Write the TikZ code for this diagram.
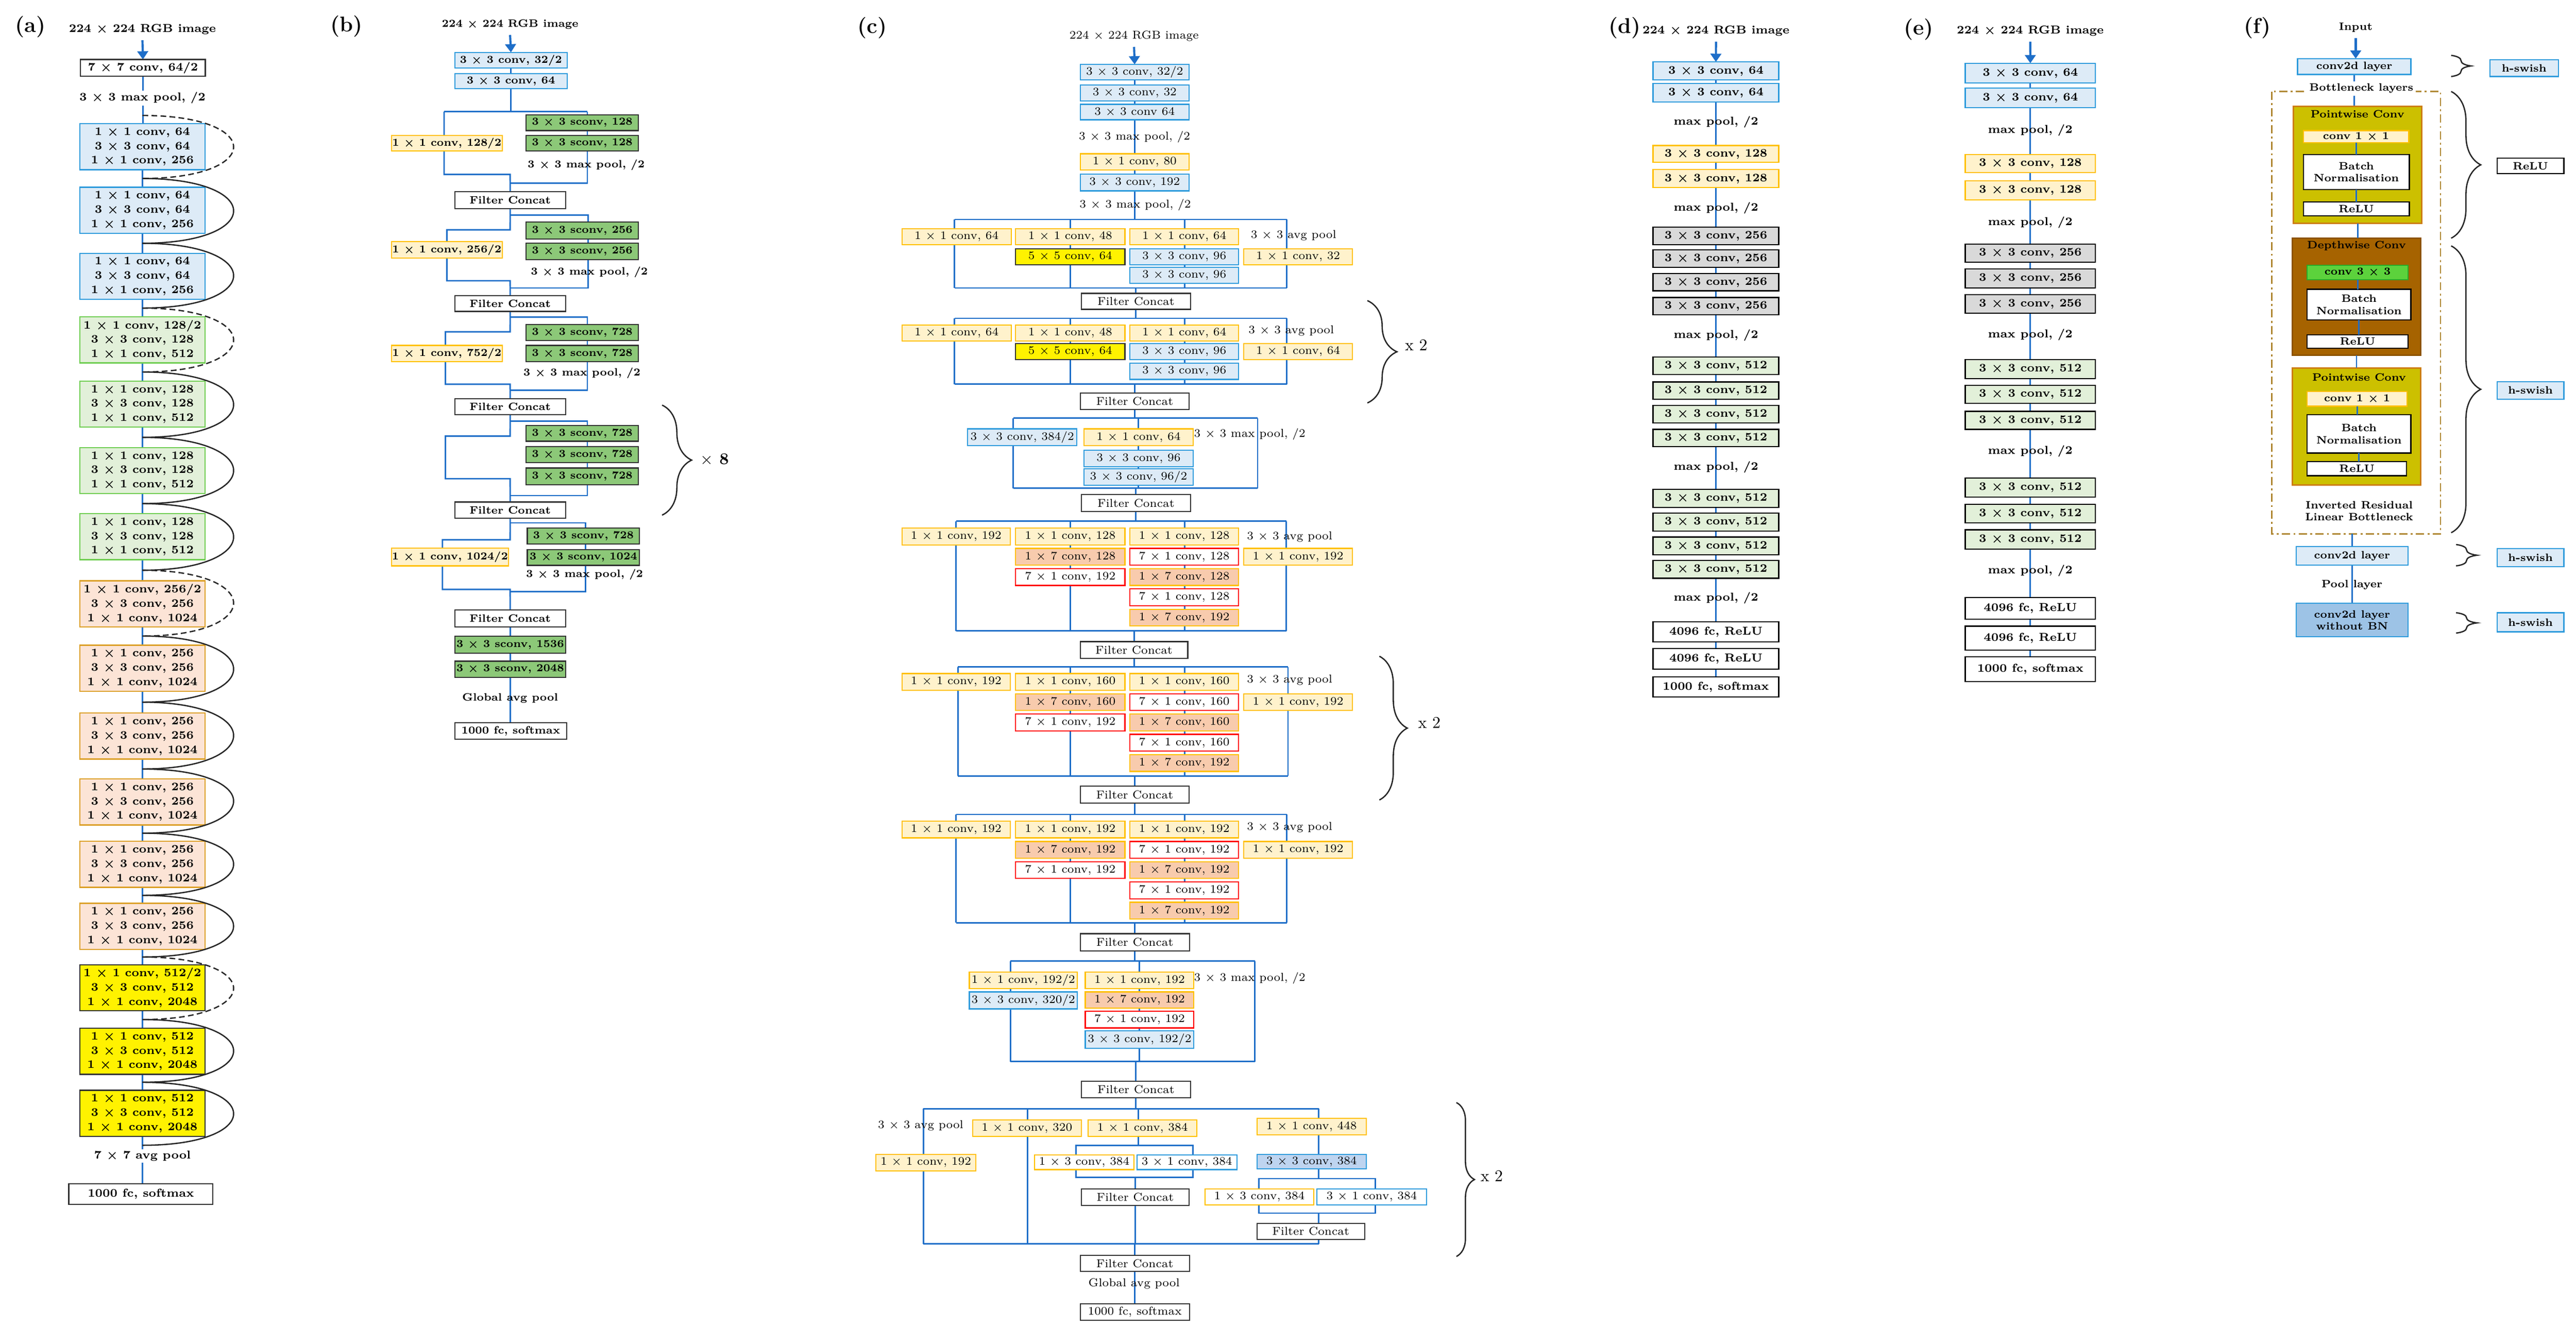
\documentclass[tikz,border=0pt]{standalone}
\usetikzlibrary{arrows.meta,decorations.pathreplacing}
\definecolor{lnblue}{RGB}{30,110,200}
\definecolor{bbd}{RGB}{46,155,220}
\definecolor{bfl}{RGB}{221,235,247}
\definecolor{bfl2}{RGB}{157,195,230}
\definecolor{bfl3}{RGB}{190,212,240}
\definecolor{gbd}{RGB}{110,205,80}
\definecolor{gfl}{RGB}{226,240,217}
\definecolor{obd}{RGB}{220,160,40}
\definecolor{ofl}{RGB}{252,228,214}
\definecolor{ybd}{RGB}{255,192,0}
\definecolor{yfl}{RGB}{255,242,204}
\definecolor{sfl}{RGB}{248,203,173}
\definecolor{xgfl}{RGB}{140,200,120}
\definecolor{grfl}{RGB}{217,217,217}
\definecolor{olv}{RGB}{204,192,0}
\definecolor{olvbd}{RGB}{205,125,20}
\definecolor{brn}{RGB}{166,99,0}
\definecolor{cgr}{RGB}{92,210,60}
\definecolor{cgrbd}{RGB}{40,170,40}
\definecolor{dashc}{RGB}{175,135,50}
\definecolor{dk}{RGB}{50,50,50}
\newcommand\tms{$\times$}
\newcommand\bx[7]{\node[#2,minimum width={#5-#3},minimum height={#6-#4}] (#1) at ({(#3+#5)/2},{(#4+#6)/2}) {#7};}
\pgfdeclarelayer{bg}
\pgfsetlayers{bg,main}
\tikzset{
 bb/.style={draw,inner sep=0pt,outer sep=0pt,align=center,line width=0.7pt},
 sblue/.style={bb,draw=bbd,fill=bfl},
 sbl2/.style={bb,draw=bbd,fill=bfl2},
 sbl3/.style={bb,draw=bbd,fill=bfl3},
 sgreen/.style={bb,draw=gbd,fill=gfl},
 sorange/.style={bb,draw=obd,fill=ofl},
 syellow/.style={bb,draw=dk,fill=yellow},
 swhite/.style={bb,draw=dk,fill=white},
 sylw/.style={bb,draw=ybd,fill=yfl},
 syw/.style={bb,draw=ybd,fill=white},
 sbw/.style={bb,draw=bbd,fill=white},
 ssal/.style={bb,draw=ybd,fill=sfl},
 sred/.style={bb,draw=red,fill=white},
 sxg/.style={bb,draw=dk,fill=xgfl},
 sgray/.style={bb,draw=black,fill=grfl},
 slg/.style={bb,draw=black,fill=gfl},
 sblk/.style={bb,draw=black,fill=white},
 solv/.style={bb,draw=olvbd,fill=olv,line width=0.9pt},
 sbrn/.style={bb,draw=brn!85!black,fill=brn,line width=0.9pt},
 scgr/.style={bb,draw=cgrbd,fill=cgr},
 fa/.style={font=\fontsize{7}{8.7}\selectfont\bfseries\boldmath},
 fb/.style={font=\fontsize{6.5}{8}\selectfont\bfseries\boldmath},
 fcc/.style={font=\fontsize{7}{8.5}\selectfont},
 fd/.style={font=\fontsize{7}{8.5}\selectfont\bfseries\boldmath},
 ff/.style={font=\fontsize{6.5}{7.4}\selectfont\bfseries\boldmath},
 lab/.style={font=\fontsize{13}{15}\selectfont\bfseries},
 ln/.style={draw=lnblue,line width=0.9pt},
 arr/.style={draw=lnblue,line width=1.3pt,-{Triangle[length=5pt,width=6.5pt]}},
 lp/.style={draw=black!85,line width=0.8pt},
 dsh/.style={dash pattern=on 3.5pt off 2pt},
 brc/.style={decorate,decoration={brace,amplitude=#1},draw=black!85,line width=0.8pt},
}
\begin{document}
\begin{tikzpicture}[x=1pt,y=-1pt]
\useasboundingbox (0,0) rectangle (1568,807.7);
% panel labels
\node[lab] (la) at (18.4,16.5) {(a)};
\node[lab] (lb) at (210.8,16) {(b)};
\node[lab] (lc) at (531,17) {(c)};
\node[lab] (ld) at (989,17) {(d)};
\node[lab] (le) at (1167.8,18) {(e)};
\node[lab] (lf) at (1374,17) {(f)};

% ================= (a) =================
\begin{scope}[every node/.append style={fa}]
\node (at) at (86.7,17.8) {224 \tms{} 224 RGB image};
\bx{a0}{swhite}{49}{36.2}{125}{46.3}{7 \tms{} 7 conv, 64/2}
\bx{a1}{sblue}{48.5}{75.3}{124.8}{103.3}{1 \tms{} 1 conv, 64\\3 \tms{} 3 conv, 64\\1 \tms{} 1 conv, 256}
\bx{a2}{sblue}{48.5}{114}{124.8}{142}{1 \tms{} 1 conv, 64\\3 \tms{} 3 conv, 64\\1 \tms{} 1 conv, 256}
\bx{a3}{sblue}{48.5}{154.2}{124.8}{182.2}{1 \tms{} 1 conv, 64\\3 \tms{} 3 conv, 64\\1 \tms{} 1 conv, 256}
\bx{a4}{sgreen}{48.5}{192.9}{124.8}{220.9}{1 \tms{} 1 conv, 128/2\\3 \tms{} 3 conv, 128\\1 \tms{} 1 conv, 512}
\bx{a5}{sgreen}{48.5}{232}{124.8}{260}{1 \tms{} 1 conv, 128\\3 \tms{} 3 conv, 128\\1 \tms{} 1 conv, 512}
\bx{a6}{sgreen}{48.5}{272.5}{124.8}{300.5}{1 \tms{} 1 conv, 128\\3 \tms{} 3 conv, 128\\1 \tms{} 1 conv, 512}
\bx{a7}{sgreen}{48.5}{312.7}{124.8}{340.7}{1 \tms{} 1 conv, 128\\3 \tms{} 3 conv, 128\\1 \tms{} 1 conv, 512}
\bx{a8}{sorange}{48.5}{353.6}{124.8}{381.6}{1 \tms{} 1 conv, 256/2\\3 \tms{} 3 conv, 256\\1 \tms{} 1 conv, 1024}
\bx{a9}{sorange}{48.5}{392.8}{124.8}{420.8}{1 \tms{} 1 conv, 256\\3 \tms{} 3 conv, 256\\1 \tms{} 1 conv, 1024}
\bx{a10}{sorange}{48.5}{434.1}{124.8}{462.1}{1 \tms{} 1 conv, 256\\3 \tms{} 3 conv, 256\\1 \tms{} 1 conv, 1024}
\bx{a11}{sorange}{48.5}{474.2}{124.8}{502.2}{1 \tms{} 1 conv, 256\\3 \tms{} 3 conv, 256\\1 \tms{} 1 conv, 1024}
\bx{a12}{sorange}{48.5}{512.2}{124.8}{540.2}{1 \tms{} 1 conv, 256\\3 \tms{} 3 conv, 256\\1 \tms{} 1 conv, 1024}
\bx{a13}{sorange}{48.5}{549.9}{124.8}{577.9}{1 \tms{} 1 conv, 256\\3 \tms{} 3 conv, 256\\1 \tms{} 1 conv, 1024}
\bx{a14}{syellow}{48.5}{587.3}{124.8}{615.3}{1 \tms{} 1 conv, 512/2\\3 \tms{} 3 conv, 512\\1 \tms{} 1 conv, 2048}
\bx{a15}{syellow}{48.5}{626}{124.8}{654}{1 \tms{} 1 conv, 512\\3 \tms{} 3 conv, 512\\1 \tms{} 1 conv, 2048}
\bx{a16}{syellow}{48.5}{663.7}{124.8}{691.7}{1 \tms{} 1 conv, 512\\3 \tms{} 3 conv, 512\\1 \tms{} 1 conv, 2048}
\bx{afc}{swhite}{41.9}{720.6}{129.6}{733.3}{1000 fc, softmax}
\node[fill=white,inner sep=1pt] (amp) at (86.7,59.7) {3 \tms{} 3 max pool, /2};
\node[fill=white,inner sep=1pt] (aap) at (86.7,703.8) {7 \tms{} 7 avg pool};
\end{scope}
\begin{pgfonlayer}{bg}
\draw[arr] (at.south) -- (a0.north);
\draw[ln] (a0.south) -- (a0.south |- a1.north);
\foreach \i/\j in {1/2,2/3,3/4,4/5,5/6,6/7,7/8,8/9,9/10,10/11,11/12,12/13,13/14,14/15,15/16}
  \draw[ln] (a\i.south) -- (a\i.south |- a\j.north);
\draw[ln] (a16.south) -- (a16.south |- afc.north);
\end{pgfonlayer}
\foreach \n/\yy in {0/70.3,1/108.65,2/148.1,3/187.55,4/226.45,5/266.25,6/306.6,7/347.15,8/387.2,9/427.45,10/468.15,11/507.2,12/545.05,13/582.6,14/620.65,15/658.85,16/697.2}
  \coordinate (am\n) at (86.7,\yy);
\foreach \i/\j/\s in {0/1/dsh,1/2/solid,2/3/solid,3/4/dsh,4/5/solid,5/6/solid,6/7/solid,7/8/dsh,8/9/solid,9/10/solid,10/11/solid,11/12/solid,12/13/solid,13/14/dsh,14/15/solid,15/16/solid}
  \draw[lp,\s] (am\i) .. controls +(74,0) and +(74,0) .. (am\j);

% ================= (b) =================
\begin{scope}[every node/.append style={fb}]
\node (bt) at (310.5,14.8) {224 \tms{} 224 RGB image};
\bx{b1}{sblue}{276.8}{31.9}{345.2}{41.4}{3 \tms{} 3 conv, 32/2}
\bx{b2}{sblue}{276.8}{44.8}{345.2}{53.9}{3 \tms{} 3 conv, 64}
\bx{by1}{sylw}{238.3}{82.4}{305.7}{91.9}{1 \tms{} 1 conv, 128/2}
\bx{bg1}{sxg}{320.3}{69.9}{388.5}{79.5}{3 \tms{} 3 sconv, 128}
\bx{bg2}{sxg}{320.3}{82.4}{388.5}{91.9}{3 \tms{} 3 sconv, 128}
\node (bm1) at (356.8,100.5) {3 \tms{} 3 max pool, /2};
\bx{bf1}{swhite}{276.8}{116.6}{344.3}{126.9}{Filter Concat}
\bx{by2}{sylw}{238.3}{147.1}{305.7}{157.2}{1 \tms{} 1 conv, 256/2}
\bx{bg3}{sxg}{320.3}{135.2}{388.5}{145.6}{3 \tms{} 3 sconv, 256}
\bx{bg4}{sxg}{320.3}{148.1}{388.5}{158}{3 \tms{} 3 sconv, 256}
\node (bm2) at (358.7,165.8) {3 \tms{} 3 max pool, /2};
\bx{bf2}{swhite}{276.8}{180}{344.3}{189.6}{Filter Concat}
\bx{by3}{sylw}{238.3}{210.3}{305.7}{220.2}{1 \tms{} 1 conv, 752/2}
\bx{bg5}{sxg}{320.3}{197.6}{388.5}{207.2}{3 \tms{} 3 sconv, 728}
\bx{bg6}{sxg}{320.3}{210.3}{388.5}{220.2}{3 \tms{} 3 sconv, 728}
\node (bm3) at (354.2,227.1) {3 \tms{} 3 max pool, /2};
\bx{bf3}{swhite}{276.8}{242.7}{344.3}{252.5}{Filter Concat}
\bx{bg7}{sxg}{320.3}{259}{388.5}{268.6}{3 \tms{} 3 sconv, 728}
\bx{bg8}{sxg}{320.3}{271.9}{388.5}{281.5}{3 \tms{} 3 sconv, 728}
\bx{bg9}{sxg}{320.3}{284.9}{388.5}{295}{3 \tms{} 3 sconv, 728}
\bx{bf4}{swhite}{276.8}{305.6}{344.3}{315.5}{Filter Concat}
\bx{by5}{sylw}{238.3}{333.6}{309.5}{344.5}{1 \tms{} 1 conv, 1024/2}
\bx{bg10}{sxg}{321}{321.4}{389.2}{331.1}{3 \tms{} 3 sconv, 728}
\bx{bg11}{sxg}{321}{334.5}{389.2}{344.2}{3 \tms{} 3 sconv, 1024}
\node (bm5) at (355.8,349.8) {3 \tms{} 3 max pool, /2};
\bx{bf5}{swhite}{276.8}{371.2}{344.3}{381.7}{Filter Concat}
\bx{bs1}{sxg}{276.8}{387.2}{344.3}{397.7}{3 \tms{} 3 sconv, 1536}
\bx{bs2}{sxg}{276.8}{402.5}{344.3}{412.3}{3 \tms{} 3 sconv, 2048}
\node (bgap) at (310.5,425.1) {Global avg pool};
\bx{bfin}{swhite}{276.8}{440}{345}{449.9}{1000 fc, softmax}
\end{scope}
\draw[brc=18pt] (403,246.6) -- (403,313.6);
\node[font=\fontsize{10}{12}\selectfont\bfseries] (bx8) at (435,280) {\tms{} 8};
\begin{pgfonlayer}{bg}
\draw[arr] (bt.south) -- (b1.north);
\draw[ln] (b1.south) -- (b1.south |- b2.north);
\draw[ln] (b2.south) -- (311,67.9);
\draw[ln] (270.3,67.9) -- (357.5,67.9);
\draw[ln] (270.3,67.9) -- (270.3,106.2) -- (310.5,106.2) -- (bf1.north);
\draw[ln] (357.5,67.9) -- (357.5,111.4) -- (310.5,111.4);
\draw[ln] (bf1.south) -- (310.5,139.9) -- (272,139.9) -- (272,170.9) -- (310.5,170.9) -- (bf2.north);
\draw[ln] (310.5,130.8) -- (358.1,130.8) -- (358.1,175.3) -- (310.5,175.3);
\draw[ln] (bf2.south) -- (310.5,202) -- (271.1,202) -- (271.1,233.9) -- (310.5,233.9) -- (bf3.north);
\draw[ln] (310.5,193) -- (357.5,193) -- (357.5,237.5) -- (310.5,237.5);
\draw[ln] (bf3.south) -- (310.5,265.5) -- (271.1,265.5) -- (271.1,291.4) -- (310.5,291.4) -- (bf4.north);
\draw[ln] (310.5,256.4) -- (357.5,256.4) -- (357.5,301.7) -- (310.5,301.7);
\draw[ln] (bf4.south) -- (310.5,328.6) -- (269.3,328.6) -- (269.3,358.8) -- (310.5,358.8) -- (bf5.north);
\draw[ln] (310.5,318.3) -- (356.3,318.3) -- (356.3,360.3) -- (310.5,360.3);
\draw[ln] (bf5.south) -- (bf5.south |- bs1.north);
\draw[ln] (bs1.south) -- (bs1.south |- bs2.north);
\draw[ln] (bs2.south) -- (bs2.south |- bfin.north);
\end{pgfonlayer}

% ================= (c) =================
\begin{scope}[every node/.append style={fcc}]
\node (ct) at (690.3,21.9) {224 \tms{} 224 RGB image};
\bx{c1}{sblue}{657.5}{39.2}{723.8}{48.6}{3 \tms{} 3 conv, 32/2}
\bx{c2}{sblue}{657.5}{51.8}{723.8}{61.5}{3 \tms{} 3 conv, 32}
\bx{c3}{sblue}{657.5}{63.5}{723.8}{72.9}{3 \tms{} 3 conv 64}
\node (cm1) at (690.6,83.4) {3 \tms{} 3 max pool, /2};
\bx{c4}{sylw}{657.5}{93.6}{723.8}{103.6}{1 \tms{} 1 conv, 80}
\bx{c5}{sblue}{657.5}{106}{723.8}{116.2}{3 \tms{} 3 conv, 192}
\node (cm2) at (691,124.7) {3 \tms{} 3 max pool, /2};
% Inception A 1
\bx{ca1}{sylw}{549}{139.2}{615.5}{149}{1 \tms{} 1 conv, 64}
\bx{ca2}{sylw}{618.2}{139.2}{684.7}{149}{1 \tms{} 1 conv, 48}
\bx{ca3}{syellow}{618.2}{151.4}{684.7}{161.1}{5 \tms{} 5 conv, 64}
\bx{ca4}{sylw}{687.8}{139.2}{753.9}{149}{1 \tms{} 1 conv, 64}
\bx{ca5}{sblue}{687.8}{151.4}{753.9}{161.1}{3 \tms{} 3 conv, 96}
\bx{ca6}{sblue}{687.8}{162.7}{753.9}{172.4}{3 \tms{} 3 conv, 96}
\node (ca7) at (787.4,143.3) {3 \tms{} 3 avg pool};
\bx{ca8}{sylw}{757}{151.4}{823.3}{161.1}{1 \tms{} 1 conv, 32}
\bx{cfa1}{swhite}{658.2}{178.6}{724.7}{188.3}{Filter Concat}
% Inception A 2
\bx{cb1}{sylw}{549}{197.8}{615.5}{207.6}{1 \tms{} 1 conv, 64}
\bx{cb2}{sylw}{618.2}{197.8}{684.7}{207.6}{1 \tms{} 1 conv, 48}
\bx{cb3}{syellow}{618.2}{209.2}{684.7}{218.9}{5 \tms{} 5 conv, 64}
\bx{cb4}{sylw}{687.8}{197.8}{753.9}{207.6}{1 \tms{} 1 conv, 64}
\bx{cb5}{sblue}{687.8}{209.2}{753.9}{218.9}{3 \tms{} 3 conv, 96}
\bx{cb6}{sblue}{687.8}{221}{753.9}{231}{3 \tms{} 3 conv, 96}
\node (cb7) at (786,201.5) {3 \tms{} 3 avg pool};
\bx{cb8}{sylw}{757}{209.2}{823.3}{218.9}{1 \tms{} 1 conv, 64}
\bx{cfa2}{swhite}{657.5}{239.3}{723.8}{249.3}{Filter Concat}
% Reduction A
\bx{cr1}{sblue}{589}{261.1}{655.5}{271.3}{3 \tms{} 3 conv, 384/2}
\bx{cr2}{sylw}{659.9}{261.1}{726.2}{271.3}{1 \tms{} 1 conv, 64}
\node (cr3) at (760.7,264.3) {3 \tms{} 3 max pool, /2};
\bx{cr4}{sblue}{659.9}{274}{726.2}{284.2}{3 \tms{} 3 conv, 96}
\bx{cr5}{sblue}{659.9}{285.4}{726.2}{295.4}{3 \tms{} 3 conv, 96/2}
\bx{cfr1}{swhite}{658.2}{301.1}{724.7}{311.3}{Filter Concat}
% Inception B 1
\bx{cd1}{sylw}{549}{321.5}{615}{331.7}{1 \tms{} 1 conv, 192}
\bx{cd2}{sylw}{618.2}{321.5}{684.7}{331.7}{1 \tms{} 1 conv, 128}
\bx{cd3}{ssal}{618.2}{333.85}{684.7}{344.05}{1 \tms{} 7 conv, 128}
\bx{cd4}{sred}{618.2}{346.2}{684.7}{356.4}{7 \tms{} 1 conv, 192}
\bx{cd5}{sylw}{687.8}{321.5}{753.9}{331.7}{1 \tms{} 1 conv, 128}
\bx{cd6}{sred}{687.8}{333.85}{753.9}{344.05}{7 \tms{} 1 conv, 128}
\bx{cd7}{ssal}{687.8}{346.2}{753.9}{356.4}{1 \tms{} 7 conv, 128}
\bx{cd8}{sred}{687.8}{358.55}{753.9}{368.75}{7 \tms{} 1 conv, 128}
\bx{cd9}{ssal}{687.8}{370.9}{753.9}{381.1}{1 \tms{} 7 conv, 192}
\node (cd10) at (785,326.7) {3 \tms{} 3 avg pool};
\bx{cd11}{sylw}{757}{333.85}{823.3}{344.05}{1 \tms{} 1 conv, 192}
\bx{cfb1}{swhite}{657.5}{390.6}{723}{400.8}{Filter Concat}
% Inception B 2
\bx{ce1}{sylw}{549}{410}{615}{420.2}{1 \tms{} 1 conv, 192}
\bx{ce2}{sylw}{618.2}{410}{684.7}{420.2}{1 \tms{} 1 conv, 160}
\bx{ce3}{ssal}{618.2}{422.35}{684.7}{432.55}{1 \tms{} 7 conv, 160}
\bx{ce4}{sred}{618.2}{434.7}{684.7}{444.9}{7 \tms{} 1 conv, 192}
\bx{ce5}{sylw}{687.8}{410}{753.9}{420.2}{1 \tms{} 1 conv, 160}
\bx{ce6}{sred}{687.8}{422.35}{753.9}{432.55}{7 \tms{} 1 conv, 160}
\bx{ce7}{ssal}{687.8}{434.7}{753.9}{444.9}{1 \tms{} 7 conv, 160}
\bx{ce8}{sred}{687.8}{447.05}{753.9}{457.25}{7 \tms{} 1 conv, 160}
\bx{ce9}{ssal}{687.8}{459.4}{753.9}{469.6}{1 \tms{} 7 conv, 192}
\node (ce10) at (785,414.1) {3 \tms{} 3 avg pool};
\bx{ce11}{sylw}{757}{422.35}{823.3}{432.55}{1 \tms{} 1 conv, 192}
\bx{cfb2}{swhite}{657.5}{478.5}{723.8}{488.9}{Filter Concat}
% Inception B 3
\bx{cg1}{sylw}{549}{499.9}{615}{510.1}{1 \tms{} 1 conv, 192}
\bx{cg2}{sylw}{618.2}{499.9}{684.7}{510.1}{1 \tms{} 1 conv, 192}
\bx{cg3}{ssal}{618.2}{512.25}{684.7}{522.45}{1 \tms{} 7 conv, 192}
\bx{cg4}{sred}{618.2}{524.6}{684.7}{534.8}{7 \tms{} 1 conv, 192}
\bx{cg5}{sylw}{687.8}{499.9}{753.9}{510.1}{1 \tms{} 1 conv, 192}
\bx{cg6}{sred}{687.8}{512.25}{753.9}{522.45}{7 \tms{} 1 conv, 192}
\bx{cg7}{ssal}{687.8}{524.6}{753.9}{534.8}{1 \tms{} 7 conv, 192}
\bx{cg8}{sred}{687.8}{536.95}{753.9}{547.15}{7 \tms{} 1 conv, 192}
\bx{cg9}{ssal}{687.8}{549.3}{753.9}{559.5}{1 \tms{} 7 conv, 192}
\node (cg10) at (785,503.5) {3 \tms{} 3 avg pool};
\bx{cg11}{sylw}{757}{512.25}{823.3}{522.45}{1 \tms{} 1 conv, 192}
\bx{cfb3}{swhite}{657.5}{568.4}{724}{578.8}{Filter Concat}
% Reduction B
\bx{ch1}{sylw}{590}{591.8}{655.8}{601.7}{1 \tms{} 1 conv, 192/2}
\bx{ch2}{sblue}{590}{603.8}{655.8}{614.2}{3 \tms{} 3 conv, 320/2}
\bx{ch3}{sylw}{660.6}{591.8}{726.7}{601.7}{1 \tms{} 1 conv, 192}
\bx{ch4}{ssal}{660.6}{603.8}{726.7}{613.8}{1 \tms{} 7 conv, 192}
\bx{ch5}{sred}{660.6}{615.7}{726.7}{625.8}{7 \tms{} 1 conv, 192}
\bx{ch6}{sblue}{660.6}{627.5}{726.7}{638.1}{3 \tms{} 3 conv, 192/2}
\node (ch7) at (760.7,595.6) {3 \tms{} 3 max pool, /2};
\bx{cfr2}{swhite}{658.2}{658.3}{724.7}{668.3}{Filter Concat}
% Inception C
\node (cc1) at (560.4,685.1) {3 \tms{} 3 avg pool};
\bx{cc2}{sylw}{533.2}{702.7}{593.9}{712.7}{1 \tms{} 1 conv, 192}
\bx{cc3}{sylw}{592}{681.7}{658.2}{691.8}{1 \tms{} 1 conv, 320}
\bx{cc4}{sylw}{662.3}{681.7}{728.6}{691.8}{1 \tms{} 1 conv, 384}
\bx{cc5}{syw}{629.6}{703.1}{690.3}{712}{1 \tms{} 3 conv, 384}
\bx{cc6}{sbw}{692}{703.1}{752.9}{712}{3 \tms{} 1 conv, 384}
\bx{cfc1}{swhite}{658.2}{723.8}{723.8}{733.7}{Filter Concat}
\bx{cc7}{sylw}{765.1}{680.7}{831.6}{690.9}{1 \tms{} 1 conv, 448}
\bx{cc8}{sbl3}{765.1}{702.7}{831.6}{711.5}{3 \tms{} 3 conv, 384}
\bx{cc9}{syw}{733.5}{723.8}{799.7}{733.4}{1 \tms{} 3 conv, 384}
\bx{cc10}{sbw}{801.6}{723.8}{868.3}{733.4}{3 \tms{} 1 conv, 384}
\bx{cfc2}{swhite}{765.1}{744.8}{830.6}{754.4}{Filter Concat}
\bx{cfc3}{swhite}{657.5}{764.3}{724}{773.9}{Filter Concat}
\node (cgap) at (690.3,781.5) {Global avg pool};
\bx{cfin}{swhite}{657.5}{793.6}{724}{803.7}{1000 fc, softmax}
\end{scope}
\draw[brc=18pt] (832.3,183) -- (832.3,245.3);
\draw[brc=17pt] (839.6,399.5) -- (839.6,487);
\draw[brc=11pt] (886.5,671.2) -- (886.5,764.9);
\node[font=\fontsize{10}{12}\selectfont] (cx1) at (862,210) {x 2};
\node[font=\fontsize{10}{12}\selectfont] (cx2) at (870,440) {x 2};
\node[font=\fontsize{10}{12}\selectfont] (cx3) at (908,716) {x 2};
\begin{pgfonlayer}{bg}
\draw[arr] (ct.south) -- (c1.north);
\foreach \i/\j in {1/2,2/3,3/4,4/5}
  \draw[ln] (c\i.south) -- (c\i.south |- c\j.north);
\draw[ln] (c5.south) -- (690.65,133.6);
% A1
\draw[ln] (581,133.6) -- (783.3,133.6);
\draw[ln] (581,175.3) -- (783.3,175.3);
\foreach \x in {581,651.5,721,783.3} \draw[ln] (\x,133.6) -- (\x,175.3);
\draw[ln] (691.45,175.3) -- (cfa1.north);
% A2
\draw[ln] (cfa1.south) -- (691.45,193.8);
\draw[ln] (581,193.8) -- (783.3,193.8);
\draw[ln] (581,233.9) -- (783.3,233.9);
\foreach \x in {581,651.5,721,783.3} \draw[ln] (\x,193.8) -- (\x,233.9);
\draw[ln] (690.65,233.9) -- (cfa2.north);
% RA
\draw[ln] (cfa2.south) -- (690.65,254.6);
\draw[ln] (616.7,254.6) -- (765.5,254.6);
\draw[ln] (616.7,297.2) -- (765.5,297.2);
\foreach \x in {616.7,693,765.5} \draw[ln] (\x,254.6) -- (\x,297.2);
\draw[ln] (691.45,297.2) -- (cfr1.north);
% B1
\draw[ln] (cfr1.south) -- (691.45,317.3);
\draw[ln] (582,317.3) -- (783,317.3);
\draw[ln] (582,384.1) -- (783,384.1);
\foreach \x in {582,651.5,721,783} \draw[ln] (\x,317.3) -- (\x,384.1);
\draw[ln] (690.25,384.1) -- (cfb1.north);
% B2
\draw[ln] (cfb1.south) -- (690.25,406);
\draw[ln] (583,406) -- (784,406);
\draw[ln] (583,472.4) -- (784,472.4);
\foreach \x in {583,651.5,721,784} \draw[ln] (\x,406) -- (\x,472.4);
\draw[ln] (690.65,472.4) -- (cfb2.north);
% B3
\draw[ln] (cfb2.south) -- (690.65,495.8);
\draw[ln] (582,495.8) -- (783.3,495.8);
\draw[ln] (582,561.7) -- (783.3,561.7);
\foreach \x in {582,651.5,721,783.3} \draw[ln] (\x,495.8) -- (\x,561.7);
\draw[ln] (690.75,561.7) -- (cfb3.north);
% RB
\draw[ln] (cfb3.south) -- (690.75,585.1);
\draw[ln] (615,585.1) -- (763.8,585.1);
\draw[ln] (615,646.3) -- (763.8,646.3);
\foreach \x in {615,693.6,763.8} \draw[ln] (\x,585.1) -- (\x,646.3);
\draw[ln] (691.45,646.3) -- (cfr2.north);
% C
\draw[ln] (cfr2.south) -- (691.45,675);
\draw[ln] (562.1,675) -- (802.7,675);
\draw[ln] (562.1,757.3) -- (802.7,757.3);
\draw[ln] (562.1,675) -- (562.1,757.3);
\draw[ln] (625.4,675) -- (625.4,757.3);
\draw[ln] (693,675) -- (693,697.4);
\draw[ln] (655,697.4) -- (726.2,697.4) -- (726.2,716.7) -- (655,716.7) -- cycle;
\draw[ln] (691,716.7) -- (cfc1.north);
\draw[ln] (cfc1.south) -- (691,757.3);
\draw[ln] (802.7,675) -- (802.7,717.5);
\draw[ln] (766.3,717.5) -- (837.2,717.5) -- (837.2,738.5) -- (766.3,738.5) -- cycle;
\draw[ln] (802.7,738.5) -- (802.7,744.8);
\draw[ln] (802.7,754.4) -- (802.7,757.3);
\draw[ln] (690.75,757.3) -- (cfc3.north);
\draw[ln] (cfc3.south) -- (cfc3.south |- cfin.north);
\end{pgfonlayer}

% ================= (d) =================
\begin{scope}[every node/.append style={fd}]
\node (dt) at (1044.5,18.7) {224 \tms{} 224 RGB image};
\bx{d1}{sblue}{1006.2}{37.7}{1082.7}{48.7}{3 \tms{} 3 conv, 64}
\bx{d2}{sblue}{1006.2}{50.9}{1082.7}{62.2}{3 \tms{} 3 conv, 64}
\node (dm1) at (1044.5,74.3) {max pool, /2};
\bx{d3}{sylw}{1006.2}{88.6}{1082.7}{98.9}{3 \tms{} 3 conv, 128}
\bx{d4}{sylw}{1006.2}{103.2}{1082.7}{114.2}{3 \tms{} 3 conv, 128}
\node (dm2) at (1044.5,126.6) {max pool, /2};
\bx{d5}{sgray}{1006.2}{138.4}{1082.7}{148.9}{3 \tms{} 3 conv, 256}
\bx{d6}{sgray}{1006.2}{152.2}{1082.7}{162.7}{3 \tms{} 3 conv, 256}
\bx{d7}{sgray}{1006.2}{166.5}{1082.7}{177}{3 \tms{} 3 conv, 256}
\bx{d8}{sgray}{1006.2}{181.1}{1082.7}{191.6}{3 \tms{} 3 conv, 256}
\node (dm3) at (1044.5,204.2) {max pool, /2};
\bx{d9}{slg}{1006.2}{217.4}{1082.7}{228}{3 \tms{} 3 conv, 512}
\bx{d10}{slg}{1006.2}{232.5}{1082.7}{243.1}{3 \tms{} 3 conv, 512}
\bx{d11}{slg}{1006.2}{246.9}{1082.7}{257.5}{3 \tms{} 3 conv, 512}
\bx{d12}{slg}{1006.2}{261.4}{1082.7}{272}{3 \tms{} 3 conv, 512}
\node (dm4) at (1044.5,284.3) {max pool, /2};
\bx{d13}{slg}{1006.2}{298}{1082.7}{308.8}{3 \tms{} 3 conv, 512}
\bx{d14}{slg}{1006.2}{312.4}{1082.7}{323.2}{3 \tms{} 3 conv, 512}
\bx{d15}{slg}{1006.2}{326.9}{1082.7}{337.7}{3 \tms{} 3 conv, 512}
\bx{d16}{slg}{1006.2}{341.2}{1082.7}{352}{3 \tms{} 3 conv, 512}
\node (dm5) at (1044.5,364.1) {max pool, /2};
\bx{d17}{sblk}{1006.2}{378.4}{1082.7}{390.8}{4096 fc, ReLU}
\bx{d18}{sblk}{1006.2}{394.9}{1082.7}{407.3}{4096 fc, ReLU}
\bx{d19}{sblk}{1006.2}{412}{1082.7}{424.4}{1000 fc, softmax}
\end{scope}
\begin{pgfonlayer}{bg}
\draw[arr] (dt.south) -- (d1.north);
\foreach \i/\j in {1/2,2/3,3/4,4/5,5/6,6/7,7/8,8/9,9/10,10/11,11/12,12/13,13/14,14/15,15/16,16/17,17/18,18/19}
  \draw[ln] (d\i.south) -- (d\i.south |- d\j.north);
\end{pgfonlayer}

% ================= (e) =================
\begin{scope}[every node/.append style={fd}]
\node (et) at (1235.8,18.7) {224 \tms{} 224 RGB image};
\bx{e1}{sblue}{1196.2}{38.5}{1275.5}{50.4}{3 \tms{} 3 conv, 64}
\bx{e2}{sblue}{1196.2}{53.7}{1275.5}{65.5}{3 \tms{} 3 conv, 64}
\node (em1) at (1235.8,79.3) {max pool, /2};
\bx{e3}{sylw}{1196.2}{94.1}{1275.5}{105.1}{3 \tms{} 3 conv, 128}
\bx{e4}{sylw}{1196.2}{110.1}{1275.5}{121.6}{3 \tms{} 3 conv, 128}
\node (em2) at (1235.8,135.4) {max pool, /2};
\bx{e5}{sgray}{1196.2}{148.6}{1275.5}{159.6}{3 \tms{} 3 conv, 256}
\bx{e6}{sgray}{1196.2}{163.7}{1275.5}{175.3}{3 \tms{} 3 conv, 256}
\bx{e7}{sgray}{1196.2}{179.4}{1275.5}{190.7}{3 \tms{} 3 conv, 256}
\node (em3) at (1235.8,203.7) {max pool, /2};
\bx{e8}{slg}{1196.2}{218.8}{1275.5}{230.4}{3 \tms{} 3 conv, 512}
\bx{e9}{slg}{1196.2}{234.5}{1275.5}{245.5}{3 \tms{} 3 conv, 512}
\bx{e10}{slg}{1196.2}{250.4}{1275.5}{261.4}{3 \tms{} 3 conv, 512}
\node (em4) at (1235.8,274.7) {max pool, /2};
\bx{e11}{slg}{1196.2}{290.9}{1275.5}{302.7}{3 \tms{} 3 conv, 512}
\bx{e12}{slg}{1196.2}{306.9}{1275.5}{318.4}{3 \tms{} 3 conv, 512}
\bx{e13}{slg}{1196.2}{322.5}{1275.5}{334.4}{3 \tms{} 3 conv, 512}
\node (em5) at (1235.8,347.3) {max pool, /2};
\bx{e14}{sblk}{1196.2}{363.8}{1275.5}{377}{4096 fc, ReLU}
\bx{e15}{sblk}{1196.2}{381.2}{1275.5}{395.7}{4096 fc, ReLU}
\bx{e16}{sblk}{1196.2}{399.9}{1275.5}{415}{1000 fc, softmax}
\end{scope}
\begin{pgfonlayer}{bg}
\draw[arr] (et.south) -- (e1.north);
\foreach \i/\j in {1/2,2/3,3/4,4/5,5/6,6/7,7/8,8/9,9/10,10/11,11/12,12/13,13/14,14/15,15/16}
  \draw[ln] (e\i.south) -- (e\i.south |- e\j.north);
\end{pgfonlayer}

% ================= (f) =================
\begin{scope}[every node/.append style={ff}]
\node (fin) at (1433.9,16.8) {Input};
\bx{f1}{sblue}{1398.5}{35.7}{1467.5}{45.3}{conv2d layer}
\node[fill=white,inner sep=1.5pt] (fbl) at (1437.3,53.9) {Bottleneck layers};
\bx{pw1}{solv}{1396.1}{64.8}{1474}{136}{}
\node (pw1t) at (1435,69.3) {Pointwise Conv};
\bx{pw1c}{sylw}{1402}{79.5}{1466.2}{86.8}{conv 1 \tms{} 1}
\bx{pw1b}{sblk}{1402}{94}{1466.5}{115.3}{Batch\\Normalisation}
\bx{pw1r}{sblk}{1402}{123}{1466.5}{131.3}{ReLU}
\bx{dw}{sbrn}{1395.4}{145}{1473.4}{216.3}{}
\node (dwt) at (1434.4,149.8) {Depthwise Conv};
\bx{dwc}{scgr}{1404.3}{161.4}{1465.8}{170.4}{conv 3 \tms{} 3}
\bx{dwb}{sblk}{1404.3}{176.1}{1467.5}{194.8}{Batch\\Normalisation}
\bx{dwr}{sblk}{1404.3}{203.8}{1465.8}{211.9}{ReLU}
\bx{pw2}{solv}{1395.4}{224}{1473.4}{295.3}{}
\node (pw2t) at (1436,229.6) {Pointwise Conv};
\bx{pw2c}{sylw}{1404.3}{238.3}{1465.2}{247.3}{conv 1 \tms{} 1}
\bx{pw2b}{sblk}{1404.3}{252.5}{1467.5}{275.8}{Batch\\Normalisation}
\bx{pw2r}{sblk}{1404.3}{281}{1464.9}{289.6}{ReLU}
\node[align=center] (fir) at (1436,311) {Inverted Residual\\Linear Bottleneck};
\bx{f2}{sblue}{1397.6}{332.8}{1465.8}{344}{conv2d layer}
\node (fpl) at (1431.6,356.1) {Pool layer};
\bx{f3}{sbl2}{1397.6}{367.3}{1465.8}{387.7}{conv2d layer\\without BN}
\bx{h1}{sblue}{1515.6}{36.3}{1557.2}{46.6}{h-swish}
\bx{h2}{sblk}{1519.9}{96.3}{1560.6}{105.7}{ReLU}
\bx{h3}{sblue}{1519.9}{232.3}{1560.6}{243}{h-swish}
\bx{h4}{sblue}{1519.9}{334.1}{1560.6}{345}{h-swish}
\bx{h5}{sblue}{1519.9}{373}{1560.6}{384.6}{h-swish}
\end{scope}
\coordinate (frb) at (1431.7,325);
\begin{pgfonlayer}{bg}
\draw[arr] (fin.south) -- (fin.south |- f1.north);
\draw[dashc,line width=0.9pt,dash pattern=on 5pt off 2pt on 1.2pt off 2pt] (1382.9,55.7) rectangle (1485.5,325);
\draw[ln] (f1.south) -- (f1.south |- pw1.north);
\draw[ln] (frb) -- (f2.north);
\draw[ln] (f2.south) -- (f2.south |- f3.north);
\end{pgfonlayer}
\draw[ln] (pw1c.south) -- (pw1c.south |- pw1b.north);
\draw[ln] (pw1b.south) -- (pw1b.south |- pw1r.north);
\draw[ln] (pw1.south) -- (pw1.south |- dw.north);
\draw[ln] (dwc.south) -- (dwc.south |- dwb.north);
\draw[ln] (dwb.south) -- (dwb.south |- dwr.north);
\draw[ln] (dw.south) -- (dw.south |- pw2.north);
\draw[ln] (pw2c.south) -- (pw2c.south |- pw2b.north);
\draw[ln] (pw2b.south) -- (pw2b.south |- pw2r.north);
\draw[brc=12pt] (1492,33.7) -- (1492,46.6);
\draw[brc=18pt] (1492,55.7) -- (1492,145);
\draw[brc=18pt] (1492,149.7) -- (1492,324.3);
\draw[brc=12.7pt] (1495,331.5) -- (1495,344.5);
\draw[brc=12.7pt] (1495,373) -- (1495,385.4);
\end{tikzpicture}
\end{document}
